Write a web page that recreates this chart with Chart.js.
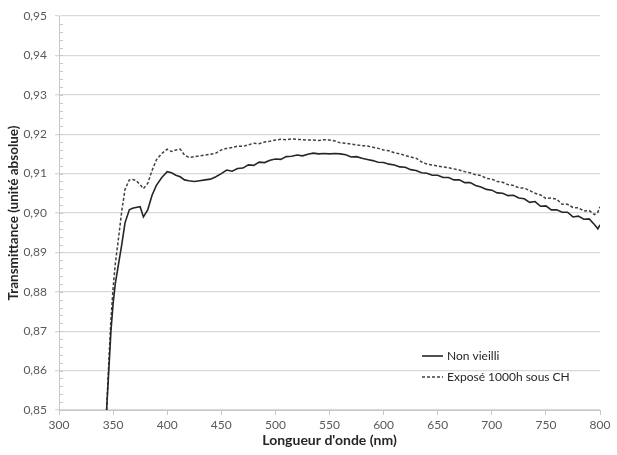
<!DOCTYPE html>
<html>
<head>
<meta charset="utf-8">
<script src="https://cdn.jsdelivr.net/npm/chart.js"></script>
<style>
  html, body { margin: 0; padding: 0; background: #fff; }
  #wrap { width: 617px; height: 455px; position: relative; }
</style>
</head>
<body>
<div id="wrap"><canvas id="transChart"></canvas></div>
<script>
// Wavelengths (nm) shared by both series
const wavelengths = [344, 346, 348, 350, 352, 355, 358, 361, 365, 368, 371, 375, 378, 382, 386, 390, 395, 400, 404, 408,
    412, 416, 420, 425, 430, 435, 440, 445, 450, 455, 460, 465, 470, 475, 480, 485, 490, 495, 500, 505,
    510, 515, 520, 525, 530, 535, 540, 545, 550, 555, 560, 565, 570, 575, 580, 585, 590, 595, 600, 605,
    610, 615, 620, 625, 630, 635, 640, 645, 650, 655, 660, 665, 670, 675, 680, 685, 690, 695, 700, 705,
    710, 715, 720, 725, 730, 735, 740, 745, 750, 755, 760, 765, 770, 775, 780, 785, 790, 795, 798, 800];

// Non vieilli (solid)
const nonVieilli = [0.850, 0.860, 0.870, 0.877, 0.882, 0.887, 0.892, 0.8975, 0.9008, 0.9012, 0.9014, 0.9016, 0.8990, 0.9008, 0.9045, 0.9070, 0.9090, 0.9105, 0.9102, 0.9096,
    0.9092, 0.9084, 0.9082, 0.9080, 0.9082, 0.9084, 0.9086, 0.9092, 0.9100, 0.9109, 0.9106, 0.9113, 0.9114, 0.9122, 0.9121, 0.9129, 0.9128, 0.9134, 0.9137, 0.9136,
    0.9143, 0.9144, 0.9147, 0.9145, 0.9149, 0.9152, 0.9150, 0.9151, 0.9150, 0.9151, 0.9150, 0.9148, 0.9142, 0.9143, 0.9139, 0.9136, 0.9133, 0.9129, 0.9128, 0.9124,
    0.9122, 0.9117, 0.9116, 0.9110, 0.9108, 0.9102, 0.9101, 0.9096, 0.9096, 0.9090, 0.9090, 0.9084, 0.9084, 0.9077, 0.9077, 0.9070, 0.9066, 0.9060, 0.9058, 0.9051,
    0.9050, 0.9044, 0.9045, 0.9038, 0.9036, 0.9027, 0.9029, 0.9017, 0.9018, 0.9008, 0.9008, 0.9002, 0.9002, 0.8990, 0.8992, 0.8984, 0.8985, 0.8970, 0.8960, 0.8970];

// Exposé 1000h sous CH (dashed)
const expose1000h = [0.850, 0.862, 0.873, 0.881, 0.887, 0.8936, 0.9005, 0.9060, 0.9084, 0.9085, 0.9083, 0.9072, 0.9062, 0.9075, 0.9108, 0.9135, 0.9151, 0.9162, 0.9156, 0.9160,
    0.9162, 0.9147, 0.9141, 0.9143, 0.9145, 0.9147, 0.9149, 0.9152, 0.9160, 0.9164, 0.9166, 0.9170, 0.9169, 0.9173, 0.9177, 0.9176, 0.9180, 0.9182, 0.9185, 0.9187,
    0.9186, 0.9188, 0.9187, 0.9186, 0.9185, 0.9185, 0.9184, 0.9186, 0.9185, 0.9183, 0.9178, 0.9177, 0.9175, 0.9173, 0.9171, 0.9170, 0.9167, 0.9164, 0.9160, 0.9158,
    0.9153, 0.9150, 0.9146, 0.9142, 0.9139, 0.9130, 0.9124, 0.9122, 0.9119, 0.9117, 0.9115, 0.9112, 0.9109, 0.9105, 0.9102, 0.9097, 0.9095, 0.9088, 0.9086, 0.9080,
    0.9078, 0.9072, 0.9070, 0.9064, 0.9063, 0.9057, 0.9050, 0.9046, 0.9037, 0.9038, 0.9035, 0.9022, 0.9022, 0.9014, 0.9013, 0.9005, 0.9006, 0.8996, 0.9002, 0.9016];

const seriesLabels = ['Non vieilli', 'Exposé 1000h sous CH'];
const xTitle = "Longueur d'onde (nm)";
const yTitle = 'Transmittance (unité absolue)';

const FONT = 'Lato, "Open Sans", sans-serif';

// small inner tick marks every 0.002 on the y axis (Excel minor ticks)
const minorTicks = {
    id: 'minorTicks',
    afterDraw(chart) {
        const y = chart.scales.y;
        const ctx = chart.ctx;
        const left = chart.chartArea.left;
        ctx.save();
        ctx.strokeStyle = '#c8c8c8';
        ctx.lineWidth = 1;
        for (let v = 0.852; v < 0.95; v += 0.002) {
            const py = Math.round(y.getPixelForValue(v)) + 0.5;
            ctx.beginPath();
            ctx.moveTo(left, py);
            ctx.lineTo(left + 4, py);
            ctx.stroke();
        }
        ctx.restore();
    }
};

// legend inside the plot, bottom right
const insideLegend = {
    id: 'insideLegend',
    afterDraw(chart) {
        const ctx = chart.ctx;
        const x0 = 422, y0 = 356;
        ctx.save();
        ctx.font = '12px ' + FONT;
        ctx.textBaseline = 'middle';
        ctx.fillStyle = '#262626';
        chart.data.datasets.forEach((ds, i) => {
            const yy = y0 + i * 21;
            ctx.strokeStyle = ds.borderColor;
            ctx.lineWidth = ds.borderWidth;
            ctx.setLineDash(ds.borderDash || []);
            ctx.beginPath();
            ctx.moveTo(x0, yy);
            ctx.lineTo(x0 + 21, yy);
            ctx.stroke();
            ctx.fillText(ds.label, x0 + 25, yy);
        });
        ctx.restore();
    }
};

new Chart(document.getElementById('transChart').getContext('2d'), {
    type: 'line',
    data: {
        datasets: [{
            label: seriesLabels[0],
            data: wavelengths.map((w, i) => ({ x: w, y: nonVieilli[i] })),
            borderColor: '#262626',
            borderWidth: 1.6,
            pointRadius: 0,
            tension: 0
        }, {
            label: seriesLabels[1],
            data: wavelengths.map((w, i) => ({ x: w, y: expose1000h[i] })),
            borderColor: '#404040',
            borderWidth: 1.5,
            borderDash: [3, 2],
            pointRadius: 0,
            tension: 0
        }]
    },
    options: {
        responsive: true,
        maintainAspectRatio: false,
        animation: false,
        layout: { padding: { left: 0, right: 17, top: 16, bottom: 0 } },
        plugins: {
            legend: { display: false },
            tooltip: { enabled: false }
        },
        scales: {
            x: {
                type: 'linear',
                min: 300,
                max: 800,
                afterFit(scale) { scale.height = 45; },
                ticks: { stepSize: 50, color: '#595959', font: { family: FONT, size: 12 }, padding: 3, maxRotation: 0 },
                grid: { drawOnChartArea: false, drawTicks: true, tickLength: 5, color: '#c8c8c8' },
                border: { display: true, color: '#c8c8c8', width: 1 },
                title: { display: true, text: xTitle, color: '#262626', font: { family: FONT, size: 14, weight: 'bold' }, padding: { bottom: 6 } }
            },
            y: {
                min: 0.85,
                max: 0.95,
                afterFit(scale) { scale.width = 59; },
                ticks: {
                    stepSize: 0.01,
                    color: '#595959',
                    font: { family: FONT, size: 12 },
                    padding: 8,
                    callback: v => v.toFixed(2).replace('.', ',')
                },
                grid: { color: '#d9d9d9', lineWidth: 1.3, tickLength: 4 },
                border: { display: true, color: '#c8c8c8', width: 1 },
                title: { display: true, text: yTitle, color: '#262626', font: { family: FONT, size: 13.5, weight: 'bold' }, padding: { top: 6 } }
            }
        }
    },
    plugins: [minorTicks, insideLegend]
});
</script>
</body>
</html>
